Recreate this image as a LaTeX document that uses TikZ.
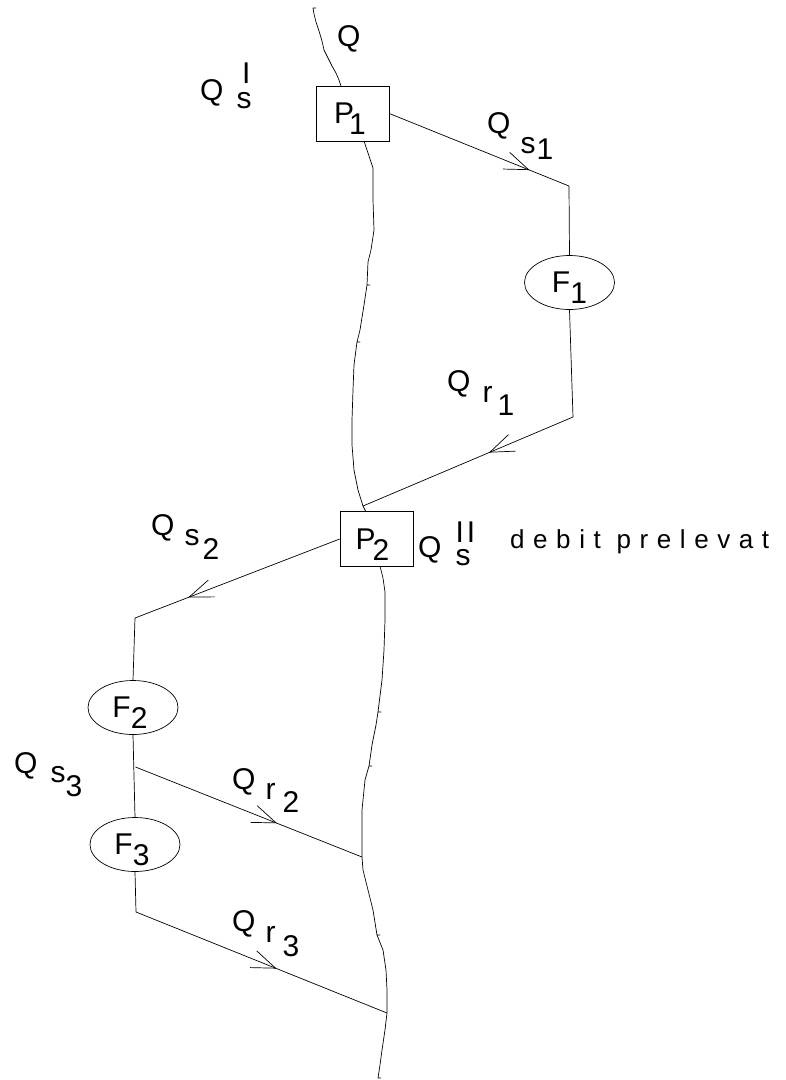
\documentclass[tikz,border=0pt]{standalone}
\usepackage{fontspec}
\setmainfont{Liberation Sans}
\newfontfamily\spacedfont[LetterSpace=33]{Liberation Sans}
\usepackage{tikz}
\usetikzlibrary{arrows.meta}
\usetikzlibrary{decorations.markings}
\usetikzlibrary{shapes.geometric}

% Q with a lowered letter and a lowered index
\newcommand{\qflow}[6]{Q\hspace{#3}\raisebox{-#4}{#1}\hspace{#5}\raisebox{-#6}{#2}}
% letter with a lowered index inside a box
\newcommand{\unitlab}[3]{#1\kern#3\smash{\raisebox{-11pt}{#2}}}

\tikzset{
  lab/.style={font=\fontsize{30}{35}\selectfont, inner sep=0pt, anchor=base west},
  pump/.style={draw, rectangle, minimum width=73pt, minimum height=55pt, inner sep=0pt, line width=0.7pt, font=\fontsize{30}{35}\selectfont},
  farm/.style={draw, ellipse, minimum width=90pt, minimum height=54pt, inner sep=0pt, line width=0.7pt, font=\fontsize{30}{35}\selectfont},
  pipe/.style={line width=0.7pt},
  river/.style={line width=0.7pt, line join=round},
  flowarrow/.style={postaction={decorate}, decoration={markings,
      mark=at position #1 with {\arrow{Straight Barb[length=24pt,width=18pt,line width=0.7pt]}}}}
}

\begin{document}
\begin{tikzpicture}[x=1pt,y=-1pt]
        \useasboundingbox (0,0) rectangle (786,1080);

        \node[pump] (p1) at (352.5,113.5) {\unitlab{P}{1}{-5pt}\kern5pt};
        \node[pump] (p2) at (376.5,539) {\unitlab{P}{2}{-3pt}\kern8pt};
        \node[farm] (f1) at (569.5,282.5) {\unitlab{F}{1}{0pt}};
        \node[farm] (f2) at (133,707.5) {\unitlab{F}{2}{0pt}\kern6pt};
        \node[farm] (f3) at (135,844.5) {\unitlab{F}{3}{0pt}\kern6pt};

        \coordinate (c1) at (569,186);
        \coordinate (c2) at (573,417);
        \coordinate (j1) at (363,506);
        \coordinate (c3) at (135,618);
        \coordinate (c4) at (135.5,767);
        \coordinate (j2) at (362,857);
        \coordinate (c5) at (136,912);
        \coordinate (j3) at (387,1013);

        % river
        \draw[river] (316,8) -- (313,8) -- (314,14) -- (316,22) -- (319,31) -- (322,41) -- (324,50)
            -- (328,58) -- (332,66) -- (336,73) -- (339,80) -- (341,86);
        \draw[river] (364,141) -- (367,150) -- (370,159) -- (373,168) -- (373,200) -- (374,230)
            -- (371,250) -- (368,262) -- (367,285) -- (370,285) -- (367,285) -- (364,305) -- (360,330)
            -- (357,342) -- (360,342) -- (357,342) -- (354,365) -- (353,390) -- (352,420) -- (352,445)
            -- (354,470) -- (358,490) -- (363,506) -- (366,512);
        \draw[river] (380,566) -- (383,578) -- (385,592) -- (385,620) -- (384,650) -- (382,680)
            -- (378,712) -- (381,712) -- (378,712) -- (376,725) -- (372,745) -- (369,766) -- (372,766)
            -- (369,766) -- (365,780) -- (362,810) -- (362,857) -- (363,870) -- (368,890) -- (373,910)
            -- (377,935) -- (380,935) -- (377,935) -- (383,950) -- (386,970) -- (387,990) -- (387,1013)
            -- (385,1030) -- (382,1050) -- (380,1065) -- (378,1078) -- (381,1078);

        % pipes
        \draw[pipe, flowarrow=0.78] (p1.east) -- (c1);
        \draw[pipe] (c1) -- (f1.north);
        \draw[pipe] (f1.south) -- (c2);
        \draw[pipe, flowarrow=0.4] (c2) -- (j1);
        \draw[pipe, flowarrow=0.74] (p2.west) -- (c3);
        \draw[pipe] (c3) -- (f2.north);
        \draw[pipe] (f2.south) -- (f3.north);
        \draw[pipe, flowarrow=0.625] (c4) -- (j2);
        \draw[pipe] (f3.south) -- (c5);
        \draw[pipe, flowarrow=0.56] (c5) -- (j3);

        % labels
        \node[lab] (qtop) at (337,46) {Q};
        \node[lab] (qsI) at (200,100) {Q\hspace{13pt}\rlap{\raisebox{-8pt}{s}}\hspace{5.5pt}\raisebox{17pt}{I}};
        \node[lab] (qsII) at (418,557) {Q\hspace{14pt}\rlap{\raisebox{-8pt}{s}}\hspace{0pt}\raisebox{15pt}{I\hspace{3pt}I}};
        \node[lab] (qs1) at (487,133) {\qflow{s}{1}{10pt}{20pt}{1pt}{26pt}};
        \node[lab] (qr1) at (447,391) {\qflow{r}{1}{12pt}{11pt}{5pt}{24pt}};
        \node[lab] (qs2) at (151,535) {\qflow{s}{2}{10pt}{10pt}{3pt}{24pt}};
        \node[lab] (qs3) at (14,773) {\qflow{s}{3}{13pt}{9pt}{0pt}{23pt}};
        \node[lab] (qr2) at (232,789) {\qflow{r}{2}{10pt}{10pt}{7pt}{23pt}};
        \node[lab] (qr3) at (232,931) {\qflow{r}{3}{10pt}{11pt}{7pt}{25pt}};
        \node[inner sep=0pt, anchor=base west, font=\fontsize{26}{31}\spacedfont] (debit) at (510,548) {debit prelevat};
    \end{tikzpicture}
\end{document}
